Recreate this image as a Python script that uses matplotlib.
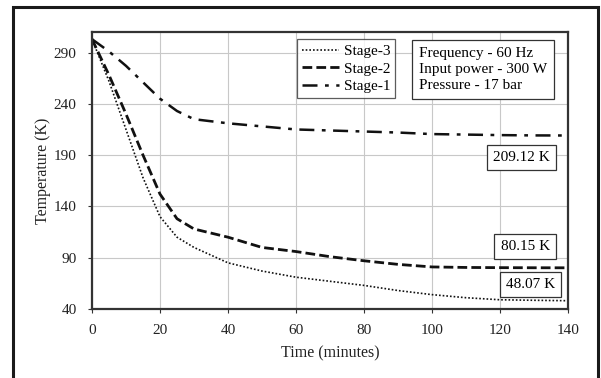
import numpy as np
import matplotlib.pyplot as plt
from matplotlib.patches import Rectangle

# data
time = [0, 5, 10, 15, 20, 25, 30, 40, 50, 60, 70, 80, 90, 100, 110, 120, 130, 140]
stage1 = [303, 291, 277, 261, 245, 233, 225, 221, 218, 215, 214, 213, 212, 210.5, 210, 209.5, 209.2, 209.12]
stage2 = [303, 268, 230, 190, 152, 128, 118, 110, 100, 96, 91, 87, 83.5, 81, 80.5, 80.3, 80.2, 80.15]
stage3 = [303, 262, 215, 168, 130, 110, 100, 85, 77, 71, 67, 63, 58, 54, 51, 49, 48.5, 48.07]

params = ["Frequency - 60 Hz", "Input power - 300 W", "Pressure - 17 bar"]
end_labels = ["209.12 K", "80.15 K", "48.07 K"]

plt.rcParams['font.family'] = ['Liberation Serif', 'DejaVu Serif']

fig = plt.figure(figsize=(6.01, 3.78), dpi=100)
W, H = 601, 378
ax = fig.add_axes([92 / W, 1 - 309 / H, (568 - 92) / W, (309 - 32) / H])

# outer frame
fig.patches.append(Rectangle((13 / W, -0.05), (598 - 13) / W, 1.05 - 7 / H,
                             transform=fig.transFigure, fill=False,
                             edgecolor="#1a1a1a", linewidth=2.2))

ax.plot(time, stage3, color="#111111", lw=1.2, linestyle=(0, (1, 1.2)), label="Stage-3")
ax.plot(time, stage2, color="#111111", lw=2.0, linestyle=(0, (3.5, 1.5)), label="Stage-2")
ax.plot(time, stage1, color="#111111", lw=1.8, linestyle=(0, (6, 3, 1.5, 3)), label="Stage-1")

ax.set_xlim(0, 140)
ax.set_ylim(40, 310)
ax.set_xticks(np.arange(0, 141, 20))
ax.set_yticks([40, 90, 140, 190, 240, 290])
ax.grid(True, color="#c8c8c8", linewidth=0.8)
ax.set_axisbelow(True)
for s in ax.spines.values():
    s.set_linewidth(1.6)
    s.set_color("#333333")
ax.tick_params(labelsize=11, length=3, colors="#333333", labelcolor="#222222")
ax.tick_params(axis="x", pad=8)
ax.tick_params(axis="y", pad=8)
ax.set_xlabel("Time (minutes)", fontsize=11.5, color="#222222", labelpad=6)
ax.set_ylabel("Temperature (K)", fontsize=11.5, color="#222222", labelpad=2)

leg = ax.legend(loc="upper left", bbox_to_anchor=((297 - 92) / 476, 1 - (39 - 32) / 277),
                fontsize=11, frameon=True, fancybox=False, handlelength=2.4,
                handletextpad=0.3, borderpad=0.35, labelspacing=0.25, borderaxespad=0)
leg.get_frame().set_edgecolor("#333333")
leg.get_frame().set_linewidth(0.9)

ax.text(0.687, 0.945, "\n".join(params), transform=ax.transAxes, fontsize=11,
        va="top", ha="left", linespacing=1.3,
        bbox=dict(boxstyle="square,pad=0.45", fc="white", ec="#333333", lw=0.9))

box = dict(boxstyle="square,pad=0.4", fc="white", ec="#333333", lw=0.9)
ax.text(126.3, 188, end_labels[0], fontsize=11, ha="center", va="center", bbox=box)
ax.text(127.4, 101, end_labels[1], fontsize=11, ha="center", va="center", bbox=box)
ax.text(129, 64, end_labels[2], fontsize=11, ha="center", va="center", bbox=box)

fig.savefig("out.png", dpi=100)
